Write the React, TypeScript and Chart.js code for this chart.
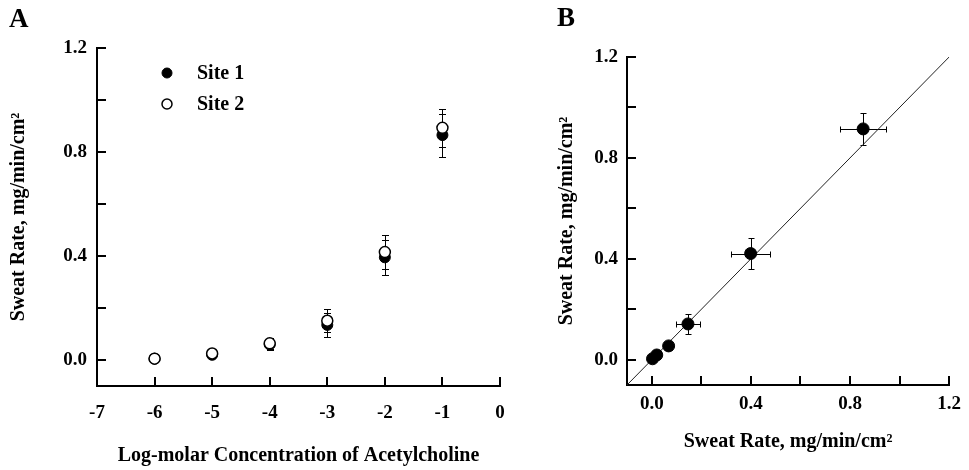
import React, { useEffect, useRef } from "react";
import { Chart, registerables } from "chart.js";

Chart.register(...registerables);

const FONT = '"Liberation Serif", "Times New Roman", serif';

// ---------- Panel A data ----------
const concentrations = [-6, -5, -4, -3, -2, -1];
const site1Mean = [0.005, 0.02, 0.06, 0.135, 0.395, 0.865];
const site1Sem = [0.004, 0.006, 0.02, 0.045, 0.068, 0.083];
const site2Mean = [0.005, 0.025, 0.064, 0.151, 0.415, 0.893];
const site2Sem = [0.004, 0.006, 0.022, 0.044, 0.065, 0.073];
const seriesLabels = ["Site 1", "Site 2"];

const xTicksA = [-7, -6, -5, -4, -3, -2, -1, 0];
const yTicks = [0, 0.2, 0.4, 0.6, 0.8, 1.0, 1.2];
const yLabeledTicks = [0, 0.4, 0.8, 1.2];

// ---------- Panel B data ----------
const site1Rate = [0.003, 0.02, 0.068, 0.146, 0.399, 0.853];
const site2Rate = [0.004, 0.019, 0.055, 0.142, 0.421, 0.915];
const site1RateErr = [0.004, 0.006, 0.015, 0.05, 0.08, 0.093];
const site2RateErr = [0.004, 0.006, 0.015, 0.041, 0.06, 0.065];
const xTicksB = [0, 0.2, 0.4, 0.6, 0.8, 1.0, 1.2];
const xLabeledTicksB = [0, 0.4, 0.8, 1.2];
const identityLine = [-0.1, 1.2];

const rateTitle = "Sweat Rate, mg/min/cm\u00B2";

// ---------- plugins ----------
const errorBarPlugin = {
  id: "errorBars",
  beforeDatasetsDraw(chart: any) {
    const ctx = chart.ctx;
    const xs = chart.scales.x;
    const ys = chart.scales.y;
    chart.data.datasets.forEach((ds: any, di: number) => {
      const ex = ds.errorX;
      const ey = ds.errorY;
      if (!ex && !ey) return;
      if (!chart.isDatasetVisible(di)) return;
      const cap = ds.errorCap || 3.5;
      ctx.save();
      ctx.strokeStyle = "#000";
      ctx.lineWidth = 1;
      ds.data.forEach((p: any, i: number) => {
        const px = Math.round(xs.getPixelForValue(p.x)) + 0.5;
        const py = Math.round(ys.getPixelForValue(p.y)) + 0.5;
        ctx.beginPath();
        if (ey) {
          const t = Math.round(ys.getPixelForValue(p.y + ey[i])) + 0.5;
          const b = Math.round(ys.getPixelForValue(p.y - ey[i])) + 0.5;
          ctx.moveTo(px, t);
          ctx.lineTo(px, b);
          ctx.moveTo(px - cap, t);
          ctx.lineTo(px + cap, t);
          ctx.moveTo(px - cap, b);
          ctx.lineTo(px + cap, b);
        }
        if (ex) {
          const l = Math.round(xs.getPixelForValue(p.x - ex[i])) + 0.5;
          const r = Math.round(xs.getPixelForValue(p.x + ex[i])) + 0.5;
          ctx.moveTo(l, py);
          ctx.lineTo(r, py);
          ctx.moveTo(l, py - cap);
          ctx.lineTo(l, py + cap);
          ctx.moveTo(r, py - cap);
          ctx.lineTo(r, py + cap);
        }
        ctx.stroke();
      });
      ctx.restore();
    });
  },
};

const inwardTicksPlugin = {
  id: "inwardTicks",
  afterDraw(chart: any) {
    const { ctx, chartArea } = chart;
    const len = 9;
    const xs = chart.scales.x;
    const ys = chart.scales.y;
    ctx.save();
    ctx.strokeStyle = "#000";
    ctx.lineWidth = 2;
    ctx.beginPath();
    xs.ticks.forEach((t: any) => {
      const p = Math.round(xs.getPixelForValue(t.value));
      ctx.moveTo(p, chartArea.bottom);
      ctx.lineTo(p, chartArea.bottom - len);
    });
    ys.ticks.forEach((t: any) => {
      const p = Math.round(ys.getPixelForValue(t.value));
      ctx.moveTo(chartArea.left, p);
      ctx.lineTo(chartArea.left + len, p);
    });
    ctx.stroke();
    ctx.restore();
  },
};

const panelLetterPlugin = {
  id: "panelLetter",
  afterDraw(chart: any, _args: any, opts: any) {
    const ctx = chart.ctx;
    ctx.save();
    ctx.font = `bold ${opts.size}px ${FONT}`;
    ctx.fillStyle = "#000";
    ctx.textAlign = "left";
    ctx.textBaseline = "middle";
    ctx.fillText(opts.text, opts.x, opts.y);
    ctx.restore();
  },
};

const insetLegendPlugin = {
  id: "insetLegend",
  afterDraw(chart: any, _args: any, opts: any) {
    if (!opts || !opts.display) return;
    const { ctx, chartArea } = chart;
    ctx.save();
    ctx.font = `bold ${opts.fontSize}px ${FONT}`;
    ctx.textAlign = "left";
    ctx.textBaseline = "middle";
    let row = 0;
    chart.data.datasets.forEach((ds: any) => {
      if (!ds.label) return;
      const cx = chartArea.left + opts.x;
      const cy = chartArea.top + opts.y + row * opts.spacing;
      ctx.beginPath();
      ctx.arc(cx, cy, opts.radius, 0, Math.PI * 2);
      ctx.fillStyle = ds.pointBackgroundColor;
      ctx.fill();
      ctx.lineWidth = ds.pointBorderWidth || 1;
      ctx.strokeStyle = ds.pointBorderColor;
      ctx.stroke();
      ctx.fillStyle = "#000";
      ctx.fillText(ds.label, cx + opts.textGap, cy + 1);
      row++;
    });
    ctx.restore();
  },
};

const tickFont = { family: FONT, size: 19, weight: "bold" as const };
const titleFont = { family: FONT, size: 20, weight: "bold" as const, lineHeight: 1.2 };

function makeConfigA(): any {
  return {
    type: "scatter",
    data: {
      datasets: [
        {
          label: seriesLabels[0],
          data: concentrations.map((c, i) => ({ x: c, y: site1Mean[i] })),
          pointRadius: 5.5,
          pointBackgroundColor: "#000",
          pointBorderColor: "#000",
          pointBorderWidth: 1,
          errorY: site1Sem,
          errorCap: 3.5,
          order: 1,
        },
        {
          label: seriesLabels[1],
          data: concentrations.map((c, i) => ({ x: c, y: site2Mean[i] })),
          pointRadius: 5.5,
          pointBackgroundColor: "#fff",
          pointBorderColor: "#000",
          pointBorderWidth: 1.5,
          errorY: site2Sem,
          errorCap: 3.5,
          order: 0,
        },
      ],
    },
    options: {
      responsive: false,
      maintainAspectRatio: false,
      animation: false,
      layout: { padding: { top: 48, right: 30, bottom: 0, left: 0 } },
      plugins: {
        legend: { display: false },
        tooltip: { enabled: false },
        panelLetter: { text: "A", x: 9, y: 20, size: 27 },
        insetLegend: { display: true, x: 70, y: 25, spacing: 31, radius: 5, textGap: 30, fontSize: 20 },
      },
      scales: {
        x: {
          type: "linear",
          min: -7,
          max: 0,
          afterBuildTicks: (s: any) => {
            s.ticks = xTicksA.map((v) => ({ value: v }));
          },
          afterFit: (s: any) => {
            s.height = 84;
          },
          grid: { display: false, drawTicks: false },
          border: { display: true, color: "#000", width: 2 },
          ticks: {
            autoSkip: false,
            maxRotation: 0,
            color: "#000",
            font: tickFont,
            padding: 16,
            callback: (v: any) => String(v),
          },
          title: {
            display: true,
            text: "Log-molar Concentration of Acetylcholine",
            color: "#000",
            font: titleFont,
            padding: { top: 0, bottom: 2 },
          },
        },
        y: {
          type: "linear",
          min: -0.1,
          max: 1.2,
          afterBuildTicks: (s: any) => {
            s.ticks = yTicks.map((v) => ({ value: v }));
          },
          afterFit: (s: any) => {
            s.width = 97;
          },
          grid: { display: false, drawTicks: false },
          border: { display: true, color: "#000", width: 2 },
          ticks: {
            autoSkip: false,
            color: "#000",
            font: tickFont,
            padding: 10,
            callback: (v: any) => (yLabeledTicks.includes(v) ? Number(v).toFixed(1) : ""),
          },
          title: {
            display: true,
            text: rateTitle,
            color: "#000",
            font: titleFont,
            padding: { top: 7, bottom: 0 },
          },
        },
      },
    },
    plugins: [errorBarPlugin, inwardTicksPlugin, panelLetterPlugin, insetLegendPlugin],
  };
}

function makeConfigB(): any {
  return {
    type: "scatter",
    data: {
      datasets: [
        {
          data: site1Rate.map((v, i) => ({ x: v, y: site2Rate[i] })),
          pointRadius: 6,
          pointBackgroundColor: "#000",
          pointBorderColor: "#000",
          pointBorderWidth: 1,
          errorX: site1RateErr,
          errorY: site2RateErr,
          errorCap: 3,
          order: 0,
        },
        {
          data: identityLine.map((v) => ({ x: v, y: v })),
          showLine: true,
          pointRadius: 0,
          borderColor: "#222",
          borderWidth: 1,
          order: 2,
        },
      ],
    },
    options: {
      responsive: false,
      maintainAspectRatio: false,
      animation: false,
      layout: { padding: { top: 57, right: 14, bottom: 0, left: 0 } },
      plugins: {
        legend: { display: false },
        tooltip: { enabled: false },
        panelLetter: { text: "B", x: 27, y: 19, size: 27 },
        insetLegend: { display: false },
      },
      scales: {
        x: {
          type: "linear",
          min: -0.1,
          max: 1.2,
          afterBuildTicks: (s: any) => {
            s.ticks = xTicksB.map((v) => ({ value: v }));
          },
          afterFit: (s: any) => {
            s.height = 85;
          },
          grid: { display: false, drawTicks: false },
          border: { display: true, color: "#000", width: 2 },
          ticks: {
            autoSkip: false,
            maxRotation: 0,
            color: "#000",
            font: tickFont,
            padding: 8,
            callback: (v: any) => (xLabeledTicksB.includes(v) ? Number(v).toFixed(1) : ""),
          },
          title: {
            display: true,
            text: rateTitle,
            color: "#000",
            font: titleFont,
            padding: { top: 0, bottom: 16 },
          },
        },
        y: {
          type: "linear",
          min: -0.1,
          max: 1.2,
          afterBuildTicks: (s: any) => {
            s.ticks = yTicks.map((v) => ({ value: v }));
          },
          afterFit: (s: any) => {
            s.width = 97;
          },
          grid: { display: false, drawTicks: false },
          border: { display: true, color: "#000", width: 2 },
          ticks: {
            autoSkip: false,
            color: "#000",
            font: tickFont,
            padding: 9,
            callback: (v: any) => (yLabeledTicks.includes(v) ? Number(v).toFixed(1) : ""),
          },
          title: {
            display: true,
            text: rateTitle,
            color: "#000",
            font: titleFont,
            padding: { top: 25, bottom: 0 },
          },
        },
      },
    },
    plugins: [errorBarPlugin, inwardTicksPlugin, panelLetterPlugin, insetLegendPlugin],
  };
}

export default function App() {
  const refA = useRef<HTMLCanvasElement | null>(null);
  const refB = useRef<HTMLCanvasElement | null>(null);

  useEffect(() => {
    const a = new Chart(refA.current as HTMLCanvasElement, makeConfigA());
    const b = new Chart(refB.current as HTMLCanvasElement, makeConfigB());
    return () => {
      a.destroy();
      b.destroy();
    };
  }, []);

  return (
    <div
      style={{
        position: "absolute",
        left: 0,
        top: 0,
        width: 969,
        height: 470,
        background: "#fff",
        overflow: "hidden",
      }}
    >
      <canvas
        ref={refA}
        width={530}
        height={470}
        style={{ position: "absolute", left: 0, top: 0, width: 530, height: 470 }}
      />
      <canvas
        ref={refB}
        width={439}
        height={470}
        style={{ position: "absolute", left: 530, top: 0, width: 439, height: 470 }}
      />
    </div>
  );
}
